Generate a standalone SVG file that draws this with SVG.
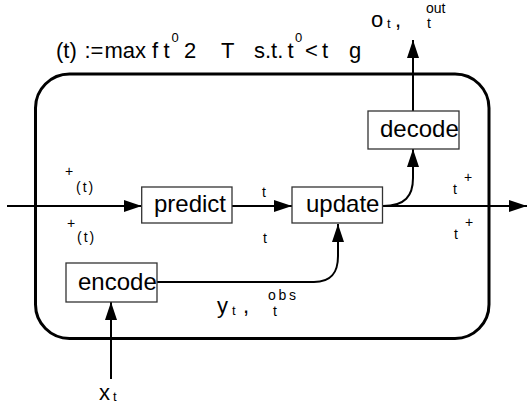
<svg xmlns="http://www.w3.org/2000/svg" width="528" height="404" viewBox="0 0 528 404">
<style>
text{font-family:"Liberation Sans",Arial,sans-serif;fill:#000}
.big{font-size:22px}
.lab{font-size:24px}
.sm{font-size:14px}
.xs{font-size:13px}
.box{fill:#fff;stroke:#333;stroke-width:1.3}
.wire{fill:none;stroke:#000;stroke-width:2;marker-end:url(#ah)}
</style>
<defs>
<marker id="ah" markerUnits="userSpaceOnUse" markerWidth="18" markerHeight="12" refX="18" refY="6" orient="auto">
<path d="M0,0 L18,6 L0,12 z" fill="#000"/>
</marker>
</defs>
<rect id="frame" x="35.5" y="74" width="453.5" height="264.5" rx="34" ry="34" fill="none" stroke="#000" stroke-width="3"/>
<g id="formula">
<text class="big" y="58"><tspan x="56">(t)</tspan><tspan x="84.5">:=</tspan><tspan x="104.5">max</tspan><tspan x="152">f</tspan><tspan x="163.5">t</tspan><tspan x="184">2</tspan><tspan x="221">T</tspan><tspan x="254">s.t.</tspan><tspan x="287.5">t</tspan><tspan x="305">&lt;</tspan><tspan x="322">t</tspan><tspan x="349">g</tspan></text>
<text class="xs" y="42"><tspan x="171.5">0</tspan><tspan x="295">0</tspan></text>
</g>
<g id="connectors">
<path class="wire" d="M7,206 L141.7,206"/>
<path class="wire" d="M232,206 L292,206"/>
<path class="wire" d="M383,206 L527,206"/>
<path class="wire" d="M157,282 L314,282 C332,282 338,272 338,256 L338,224"/>
<path class="wire" d="M383,206 C405,206 413,196 413,178 L413,149"/>
<path class="wire" d="M413,111 L413,40"/>
<path class="wire" d="M111,379 L111,302"/>
</g>
<g id="predict"><rect class="box" x="141.7" y="187" width="90.3" height="36"/><text class="lab" x="154" y="212">predict</text></g>
<g id="update"><rect class="box" x="292" y="187" width="90.5" height="36"/><text class="lab" x="306" y="212">update</text></g>
<g id="decode"><rect class="box" x="368" y="111" width="91" height="38"/><text class="lab" x="380" y="137">decode</text></g>
<g id="encode"><rect class="box" x="66" y="263" width="91" height="39"/><text class="lab" x="78" y="289.5">encode</text></g>
<g id="labels">
<text class="sm" x="65" y="176">+</text>
<text class="sm" x="76" y="192" letter-spacing="2">(t)</text>
<text class="sm" x="67" y="228">+</text>
<text class="sm" x="77" y="242" letter-spacing="2">(t)</text>
<text class="sm" x="262" y="197">t</text>
<text class="sm" x="263" y="243">t</text>
<text class="sm" x="453" y="194">t</text>
<text class="sm" x="464" y="182">+</text>
<text class="sm" x="454" y="239">t</text>
<text class="sm" x="465" y="227">+</text>
<text class="big" x="371" y="27">o</text>
<text class="xs" x="387" y="28">t</text>
<text class="big" x="395" y="27">,</text>
<text class="sm" x="426" y="13">out</text>
<text class="sm" x="427" y="28">t</text>
<text class="big" x="217" y="313">y</text>
<text class="xs" x="232" y="315">t</text>
<text class="big" x="243" y="313">,</text>
<text class="sm" x="268" y="300" textLength="28">obs</text>
<text class="sm" x="273" y="316">t</text>
<text class="big" x="99" y="400">x</text>
<text class="xs" x="113" y="401">t</text>
</g>
</svg>
